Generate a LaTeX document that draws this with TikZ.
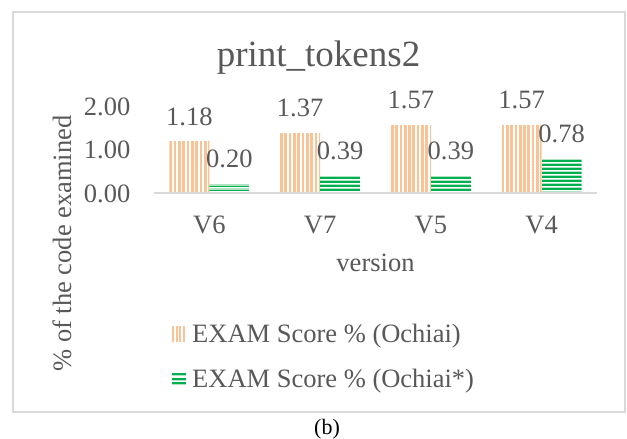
\documentclass[tikz,border=0pt]{standalone}
\usepackage{fontspec}
\setmainfont{Liberation Serif}
\definecolor{txt}{HTML}{595959}
\definecolor{ax}{HTML}{D9D9D9}
\definecolor{orng}{RGB}{250,195,150}
\definecolor{dgrn}{HTML}{00B050}
\definecolor{lgrn}{RGB}{175,228,195}
\newcommand{\orangebar}[2]{%
  \begin{scope}
    \clip (#1,193) rectangle ++(40,-#2*43.3);
    \foreach \i in {0,...,9} {\fill[orng] ({#1+\i*4.3},194) rectangle ++(2.7,-90);}
  \end{scope}}
\newcommand{\greenbar}[2]{%
  \pgfmathsetmacro{\gtop}{193-#2*43.3}
  \begin{scope}
    \clip (#1,193) rectangle (#1+40,\gtop);
    \foreach \i in {0,...,9} {
      \fill[lgrn] (#1,\gtop+4*\i) rectangle ++(40,1.2);
      \fill[dgrn] (#1,\gtop+4*\i+1.2) rectangle ++(40,1.9);
    }
  \end{scope}}
\begin{document}
\begin{tikzpicture}[x=1pt,y=-1pt,
  lbl/.style={text=txt,font=\fontsize{26.5}{30}\selectfont,inner sep=0pt}]
\useasboundingbox (0,0) rectangle (627,439);
\fill[white] (0,0) rectangle (627,439);
\draw[ax,line width=1.2pt] (13,12) rectangle (625,412);
% title
\node[lbl,anchor=base,font=\fontsize{37}{44}\selectfont] (title) at (318.5,66.5) {print\_tokens2};
% tick labels
\node[lbl,anchor=base east] (y2) at (130.5,115.5) {2.00};
\node[lbl,anchor=base east] (y1) at (130.5,158.8) {1.00};
\node[lbl,anchor=base east] (y0) at (130.5,202) {0.00};
% bars and labels
\foreach \c/\a/\b/\n in {209.4/1.18/0.20/V6, 320.1/1.37/0.39/V7, 430.9/1.57/0.39/V5, 541.6/1.57/0.78/V4} {
  \orangebar{\c-40}{\a}
  \greenbar{\c}{\b}
  \node[lbl,anchor=base] (o\n) at (\c-20,{193-\a*43.3-16.7}) {\a};
  \node[lbl,anchor=base] (g\n) at (\c+20,{193-\b*43.3-16.7}) {\b};
  \node[lbl,anchor=base] (c\n) at (\c,233) {\n};
}
\draw[ax,line width=1.5pt] (154,193) -- (597,193);
% axis titles
\node[lbl,anchor=base] (xt) at (375.5,271.5) {version};
\node[lbl,rotate=90] (yt) at (62,243.5) {\% of the code examined};
% legend
\foreach \i in {0,...,3} {\fill[orng] ({172+\i*3.6},326) rectangle ++(2.2,16);}
\foreach \i in {0,...,2} {
  \fill[dgrn] (172,{373+\i*4.5}) rectangle ++(14,2);
  \fill[lgrn] (172,{375+\i*4.5}) rectangle ++(14,1.2);
}
\node[lbl,anchor=base west] (l1) at (192,342) {EXAM Score \% (Ochiai)};
\node[lbl,anchor=base west] (l2) at (192,387) {EXAM Score \% (Ochiai*)};
% caption
\node[inner sep=0pt,font=\fontsize{22}{26}\selectfont] (cap) at (327,429) {(b)};
\end{tikzpicture}
\end{document}
